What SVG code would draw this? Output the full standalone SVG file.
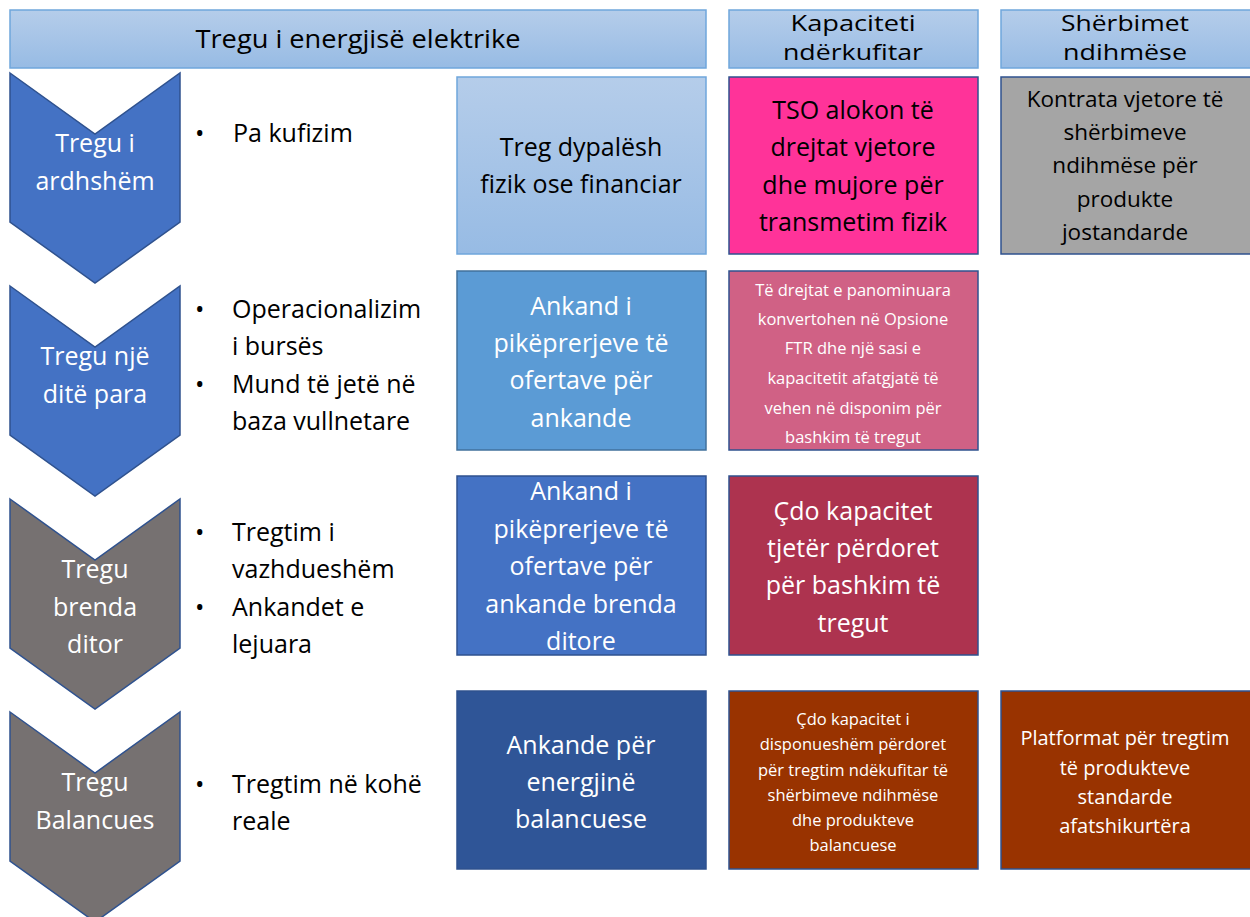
<svg xmlns="http://www.w3.org/2000/svg" width="1250" height="917" viewBox="0 0 1250 917">
<defs>
<linearGradient id="hg" x1="0" y1="0" x2="0" y2="1">
<stop offset="0" stop-color="#B5CDEA"/>
<stop offset="1" stop-color="#97BBE4"/>
</linearGradient>
<style>
.hdr{fill:url(#hg);stroke:#6FA6DC;stroke-width:1.5}
.t{font-family:"Open Sans",Lato,sans-serif;text-anchor:middle}
.ht{font-family:"Open Sans",Lato,sans-serif;text-anchor:middle;font-size:25px;fill:#000}
.hs{font-size:22px}
.w{fill:#fff}
.k{fill:#000}
.cb{fill:#4472C4;stroke:#2F528F;stroke-width:1.5}
.cg{fill:#767171;stroke:#2F528F;stroke-width:1.5}
.bx{stroke-width:1.5}
.bl{font-family:"Open Sans",Lato,sans-serif;font-size:25px;fill:#000}
</style>
</defs>
<g id="headers">
<g id="h1"><rect class="hdr" x="10" y="10" width="696" height="58"/><text class="ht" x="358" y="48" textLength="325" lengthAdjust="spacingAndGlyphs">Tregu i energjisë elektrike</text></g>
<g id="h2"><rect class="hdr" x="729" y="10" width="249" height="58"/><text class="ht hs" x="853" y="31" textLength="125" lengthAdjust="spacingAndGlyphs">Kapaciteti</text><text class="ht hs" x="853" y="60" textLength="140" lengthAdjust="spacingAndGlyphs">ndërkufitar</text></g>
<g id="h3"><rect class="hdr" x="1001" y="10" width="260" height="58"/><text class="ht hs" x="1125" y="31" textLength="128" lengthAdjust="spacingAndGlyphs">Shërbimet</text><text class="ht hs" x="1125" y="60" textLength="124" lengthAdjust="spacingAndGlyphs">ndihmëse</text></g>
</g>
<g id="chevrons">
<g id="c1"><polygon class="cb" points="10,73 95,134 180,73 180,222 95,283 10,222"/><text class="t w" font-size="25"><tspan x="95" y="152">Tregu i</tspan><tspan x="95" y="190">ardhshëm</tspan></text></g>
<g id="c2"><polygon class="cb" points="10,286 95,347 180,286 180,435 95,496 10,435"/><text class="t w" font-size="25"><tspan x="95" y="365">Tregu një</tspan><tspan x="95" y="403">ditë para</tspan></text></g>
<g id="c3"><polygon class="cg" points="10,499 95,560 180,499 180,648 95,709 10,648"/><text class="t w" font-size="25"><tspan x="95" y="578">Tregu</tspan><tspan x="95" y="616">brenda</tspan><tspan x="95" y="653">ditor</tspan></text></g>
<g id="c4"><polygon class="cg" points="10,712 95,773 180,712 180,861 95,922 10,861"/><text class="t w" font-size="25"><tspan x="95" y="791">Tregu</tspan><tspan x="95" y="829">Balancues</tspan></text></g>
</g>
<g id="bullets">
<g id="b1"><text class="bl"><tspan x="195" y="142">•</tspan><tspan x="233" y="142">Pa kufizim</tspan></text></g>
<g id="b2"><text class="bl"><tspan x="195" y="318">•</tspan><tspan x="232" y="318">Operacionalizim</tspan><tspan x="232" y="355">i bursës</tspan><tspan x="195" y="393">•</tspan><tspan x="232" y="393">Mund të jetë në</tspan><tspan x="232" y="430">baza vullnetare</tspan></text></g>
<g id="b3"><text class="bl"><tspan x="195" y="541">•</tspan><tspan x="232" y="541">Tregtim i</tspan><tspan x="232" y="578">vazhdueshëm</tspan><tspan x="195" y="616">•</tspan><tspan x="232" y="616">Ankandet e</tspan><tspan x="232" y="653">lejuara</tspan></text></g>
<g id="b4"><text class="bl"><tspan x="195" y="793">•</tspan><tspan x="232" y="793">Tregtim në kohë</tspan><tspan x="232" y="830">reale</tspan></text></g>
</g>
<g id="boxes">
<g id="r1a"><rect class="hdr" x="457" y="77" width="249" height="177"/><text class="t k" font-size="25"><tspan x="581" y="156">Treg dypalësh</tspan><tspan x="581" y="193">fizik ose financiar</tspan></text></g>
<g id="r1b"><rect class="bx" x="729" y="77" width="249" height="177" fill="#FF3399" stroke="#2F528F"/><text class="t k" font-size="25"><tspan x="853" y="119">TSO alokon të</tspan><tspan x="853" y="156">drejtat vjetore</tspan><tspan x="853" y="194">dhe mujore për</tspan><tspan x="853" y="231">transmetim fizik</tspan></text></g>
<g id="r1c"><rect class="bx" x="1001" y="77" width="260" height="177" fill="#A5A5A5" stroke="#2F528F"/><text class="t k" font-size="22.5"><tspan x="1125" y="107">Kontrata vjetore të</tspan><tspan x="1125" y="140">shërbimeve</tspan><tspan x="1125" y="173">ndihmëse për</tspan><tspan x="1125" y="207">produkte</tspan><tspan x="1125" y="240">jostandarde</tspan></text></g>
<g id="r2a"><rect class="bx" x="457" y="271" width="249" height="179" fill="#5B9BD5" stroke="#41719C"/><text class="t w" font-size="25"><tspan x="581" y="315">Ankand i</tspan><tspan x="581" y="352">pikëprerjeve të</tspan><tspan x="581" y="389">ofertave për</tspan><tspan x="581" y="427">ankande</tspan></text></g>
<g id="r2b"><rect class="bx" x="729" y="271" width="249" height="179" fill="#D06185" stroke="#2F528F"/><text class="t w" font-size="16.5"><tspan x="853" y="296">Të drejtat e panominuara</tspan><tspan x="853" y="325">konvertohen në Opsione</tspan><tspan x="853" y="354">FTR dhe një sasi e</tspan><tspan x="853" y="384">kapacitetit afatgjatë të</tspan><tspan x="853" y="414">vehen në disponim për</tspan><tspan x="853" y="443">bashkim të tregut</tspan></text></g>
<g id="r3a"><rect class="bx" x="457" y="476" width="249" height="179" fill="#4472C4" stroke="#2F528F"/><text class="t w" font-size="25"><tspan x="581" y="500">Ankand i</tspan><tspan x="581" y="538">pikëprerjeve të</tspan><tspan x="581" y="575">ofertave për</tspan><tspan x="581" y="613">ankande brenda</tspan><tspan x="581" y="650">ditore</tspan></text></g>
<g id="r3b"><rect class="bx" x="729" y="476" width="249" height="179" fill="#AD334F" stroke="#2F528F"/><text class="t w" font-size="25"><tspan x="853" y="520">Çdo kapacitet</tspan><tspan x="853" y="557">tjetër përdoret</tspan><tspan x="853" y="594">për bashkim të</tspan><tspan x="853" y="632">tregut</tspan></text></g>
<g id="r4a"><rect class="bx" x="457" y="691" width="249" height="178" fill="#2F5597" stroke="#2F528F"/><text class="t w" font-size="25"><tspan x="581" y="754">Ankande për</tspan><tspan x="581" y="791">energjinë</tspan><tspan x="581" y="828">balancuese</tspan></text></g>
<g id="r4b"><rect class="bx" x="729" y="691" width="249" height="178" fill="#993300" stroke="#2F528F"/><text class="t w" font-size="16.5"><tspan x="853" y="725">Çdo kapacitet i</tspan><tspan x="853" y="750">disponueshëm përdoret</tspan><tspan x="853" y="776">për tregtim ndëkufitar të</tspan><tspan x="853" y="801">shërbimeve ndihmëse</tspan><tspan x="853" y="826">dhe produkteve</tspan><tspan x="853" y="851">balancuese</tspan></text></g>
<g id="r4c"><rect class="bx" x="1001" y="691" width="260" height="178" fill="#993300" stroke="#2F528F"/><text class="t w" font-size="20"><tspan x="1125" y="745">Platformat për tregtim</tspan><tspan x="1125" y="775">të produkteve</tspan><tspan x="1125" y="804">standarde</tspan><tspan x="1125" y="833">afatshikurtëra</tspan></text></g>
</g>
<g id="connectors"/>
</svg>
